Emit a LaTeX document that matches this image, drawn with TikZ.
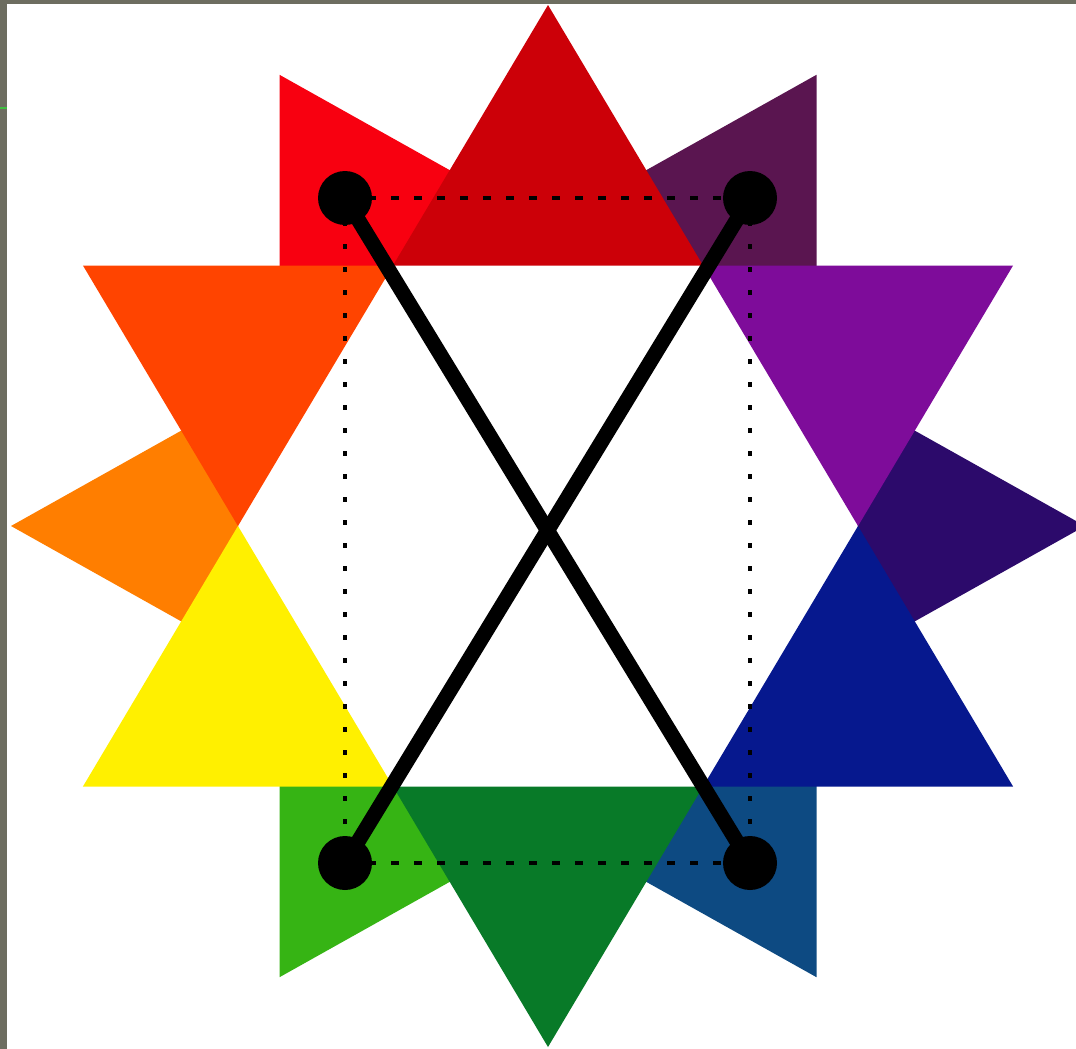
\documentclass[tikz,border=0pt]{standalone}
\usetikzlibrary{calc}
\definecolor{bgGray}{HTML}{6D6D60}
\definecolor{cB90}{HTML}{CC0008}
\definecolor{cS120}{HTML}{F80010}
\definecolor{cB150}{HTML}{FF4400}
\definecolor{cS180}{HTML}{FF7E00}
\definecolor{cB210}{HTML}{FFF000}
\definecolor{cS240}{HTML}{36B414}
\definecolor{cB270}{HTML}{087A28}
\definecolor{cS300}{HTML}{0D4A82}
\definecolor{cB330}{HTML}{06188E}
\definecolor{cS0}{HTML}{2C0A6B}
\definecolor{cB30}{HTML}{7E0C9A}
\definecolor{cS60}{HTML}{5A1550}
\newcommand{\wpt}[2]{({548+537*(#2)*cos(#1)},{526-521*(#2)*sin(#1)})}
\tikzset{
  hubdot/.style={circle, fill=black, inner sep=0pt, minimum size=27pt},
  crossline/.style={line width=7.5pt, black},
  hdots/.style={line width=2pt, black, dash pattern=on 4pt off 7.5pt},
  vdots/.style={line width=2pt, black, dash pattern=on 2.5pt off 9pt},
}
\begin{document}
\begin{tikzpicture}[x=0.5pt, y=-0.5pt]
\useasboundingbox (0,0) rectangle (1076,1049);
\clip (0,0) rectangle (1076,1049);
\fill[white] (0,0) rectangle (1076,1049);
% border strips
\fill[bgGray] (0,0) rectangle (1076,4);
\fill[bgGray] (0,0) rectangle (7,1049);
\draw[green!50!gray, line width=0.6pt] (0,108) -- (7,108);
% small star points (behind)
\foreach \a/\c in {0/cS0,60/cS60,120/cS120,180/cS180,240/cS240,300/cS300}{
  \fill[\c] \wpt{\a}{1} -- \wpt{\a-30}{0.57735} -- \wpt{\a}{0.57735} -- \wpt{\a+30}{0.57735} -- cycle;
}
% big star points
\foreach \a/\c in {30/cB30,90/cB90,150/cB150,210/cB210,270/cB270,330/cB330}{
  \fill[\c] \wpt{\a}{1} -- \wpt{\a-30}{0.57735} -- \wpt{\a+30}{0.57735} -- cycle;
}
% dots
\node[hubdot] (tl) at (345,198) {};
\node[hubdot] (tr) at (750,198) {};
\node[hubdot] (bl) at (345,863) {};
\node[hubdot] (br) at (750,863) {};
% dotted rectangle
\draw[hdots] (tl.center) -- (tr.center);
\draw[hdots] (bl.center) -- (br.center);
\draw[vdots] (tl.center) -- (bl.center);
\draw[vdots] (tr.center) -- (br.center);
% crossing lines
\draw[crossline] (tl.center) -- (br.center);
\draw[crossline] (tr.center) -- (bl.center);
\end{tikzpicture}
\end{document}
